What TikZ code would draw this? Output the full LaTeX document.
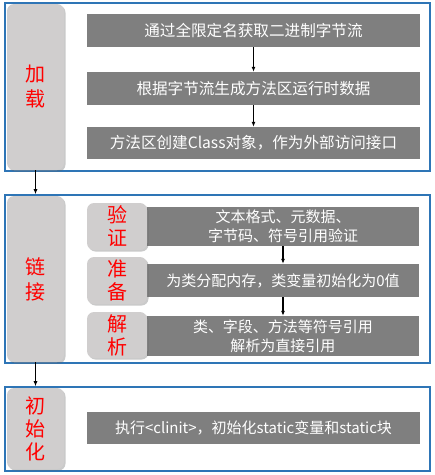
\documentclass[tikz,border=0pt]{standalone}
\usepackage{fontspec}
\setmainfont{Noto Sans CJK SC}
\usetikzlibrary{shadows,arrows.meta}
\definecolor{bluebd}{RGB}{46,117,182}
\definecolor{barg}{RGB}{127,127,127}
\definecolor{lightg}{RGB}{208,206,206}
\tikzset{
  secbox/.style={draw=bluebd, line width=1.6pt, minimum width=425pt, inner sep=0pt},
  tallbox/.style={fill=lightg, rounded corners=7pt, minimum width=57pt, inner sep=0pt, align=center,
     text=red, font=\fontsize{20}{25}\selectfont, drop shadow={shadow xshift=1.5pt, shadow yshift=-1.5pt, opacity=0.35, fill=black!60}},
  smallbox/.style={fill=lightg, rounded corners=7pt, minimum width=60pt, inner sep=0pt, align=center,
     text=red, font=\fontsize{20}{23}\selectfont, drop shadow={shadow xshift=1.5pt, shadow yshift=-1.5pt, opacity=0.35, fill=black!60}},
  bar/.style={fill=barg, text=white, inner sep=0pt, align=center, font=\fontsize{15}{19}\selectfont},
  bigbar/.style={bar, font=\fontsize{15.6}{19}\selectfont},
  arr/.style={-{Latex[length=5pt,width=4pt]}, line width=1.2pt}
}
\begin{document}
\begin{tikzpicture}[x=1pt,y=-1pt]
\useasboundingbox (0,0) rectangle (435,475);
% section 1
\node[secbox, minimum height=168pt] (s1) at (217.5,87) {};
\node[tallbox, minimum height=166pt] (g1) at (35.5,87) {加\\载};
\node[bigbar, minimum width=333pt, minimum height=33pt] (b11) at (253.5,30.5) {通过全限定名获取二进制字节流};
\node[bigbar, minimum width=333pt, minimum height=33pt] (b12) at (253.5,88.5) {根据字节流生成方法区运行时数据};
\node[bigbar, minimum width=333pt, minimum height=32pt] (b13) at (253.5,143) {方法区创建Class对象，作为外部访问接口};
\draw[arr] (b11) -- (b12);
\draw[arr] (b12) -- (b13);
% section 2
\node[secbox, minimum height=168pt] (s2) at (217.5,279) {};
\node[tallbox, minimum height=166pt] (g2) at (35.5,279) {链\\接};
\node[bar, minimum width=272pt, minimum height=39pt] (b21) at (283,226.5) {文本格式、元数据、\\字节码、符号引用验证};
\node[bar, minimum width=272pt, minimum height=33pt] (b22) at (283,280.5) {为类分配内存，类变量初始化为0值};
\node[bar, minimum width=272pt, minimum height=40pt] (b23) at (283,336) {类、字段、方法等符号引用\\解析为直接引用};
\node[smallbox, minimum height=47pt] (k1) at (117,226.5) {验\\证};
\node[smallbox, minimum height=47pt] (k2) at (117,280.5) {准\\备};
\node[smallbox, minimum height=46pt] (k3) at (117,335) {解\\析};
\draw[arr] (b21) -- (b22);
\draw[arr] (b22) -- (b23);
% section 3
\node[secbox, minimum height=84pt] (s3) at (217.5,429) {};
\node[tallbox, minimum height=81pt, font=\fontsize{20}{23}\selectfont] (g3) at (35.5,428.5) {初\\始\\化};
\node[bar, minimum width=333pt, minimum height=32pt] (b31) at (253.5,428) {执行<clinit>，初始化static变量和static块};
% section arrows
\draw[arr] (g1.south) -- (g1.south |- s2.north);
\draw[arr] (g2.south) -- (g2.south |- s3.north);
\end{tikzpicture}
\end{document}
